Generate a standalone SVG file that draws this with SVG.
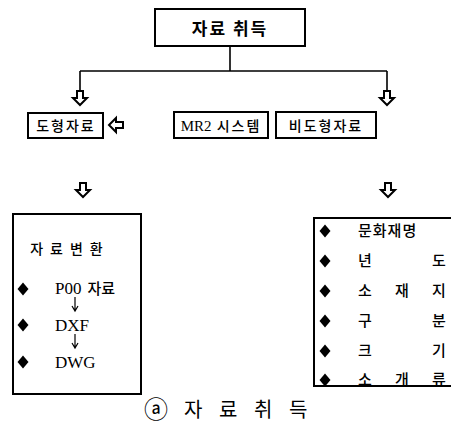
<svg xmlns="http://www.w3.org/2000/svg" width="451" height="446" viewBox="0 0 451 446">
<style>
.box{fill:none;stroke:#000;stroke-width:2}
.ln{fill:none;stroke:#000;stroke-width:1.6}
.ko{font-family:"Noto Sans CJK KR","Noto Sans",sans-serif;font-weight:500;fill:#000}
.lat{font-family:"Liberation Serif","Noto Sans CJK KR",serif;font-weight:normal;fill:#000}
.dia{fill:#000}
.sm{fill:none;stroke:#000;stroke-width:1.2}
.cap{font-family:"Noto Sans CJK KR","Noto Sans",sans-serif;font-weight:400;fill:#000}
</style>
<defs>
<polygon id="hd" points="-3,0 3,0 3,7 7,7 0,14 -7,7 -3,7" fill="#fff" stroke="#000" stroke-width="2" stroke-linejoin="miter"/>
<polygon id="dm" points="0,-6.5 5.5,0 0,6.5 -5.5,0"/>
</defs>
<g id="connectors">
<path class="ln" d="M230,46 V71 M80,71 H387 M80,71 V91 M387,71 V91"/>
<use href="#hd" x="80" y="91"/>
<use href="#hd" x="387" y="91"/>
<use href="#hd" transform="translate(123,125) rotate(90)"/>
<use href="#hd" x="83" y="183"/>
<use href="#hd" x="388" y="183"/>
</g>
<g id="top">
<rect class="box" x="155" y="9" width="150" height="37"/>
<text class="ko" x="230" y="35" font-size="17" style="font-weight:bold" text-anchor="middle" letter-spacing="2">자료 취득</text>
</g>
<g id="graphic">
<rect class="box" x="28" y="113" width="75" height="25"/>
<text class="ko" x="66" y="131" font-size="14" text-anchor="middle" letter-spacing="2">도형자료</text>
</g>
<g id="mr2">
<rect class="box" x="174" y="112" width="94" height="26"/>
<text x="221" y="131" font-size="15" text-anchor="middle"><tspan class="lat">MR2</tspan><tspan class="ko" font-size="14" letter-spacing="2"> 시스템</tspan></text>
</g>
<g id="nongraphic">
<rect class="box" x="276" y="112" width="100" height="26"/>
<text class="ko" x="326" y="131" font-size="14" text-anchor="middle" letter-spacing="2">비도형자료</text>
</g>
<g id="convert">
<rect class="box" x="13" y="214" width="128" height="180"/>
<text class="ko" x="70" y="254" font-size="14" text-anchor="middle" letter-spacing="7">자료변환</text>
<use href="#dm" class="dia" x="23" y="289"/>
<text x="55" y="294" font-size="17"><tspan class="lat">P00</tspan><tspan class="ko" font-size="15" dx="6">자료</tspan></text>
<path class="sm" d="M75,297 V311 M72,306 L75,311 L78,306"/>
<use href="#dm" class="dia" x="23" y="325"/>
<text class="lat" x="55" y="331" font-size="17">DXF</text>
<path class="sm" d="M75,334 V348 M72,343 L75,348 L78,343"/>
<use href="#dm" class="dia" x="23" y="362"/>
<text class="lat" x="55" y="368" font-size="17">DWG</text>
</g>
<g id="attrs">
<path class="box" d="M452,218 H314 V386 H452"/>
<g class="ko" font-size="15">
<use href="#dm" class="dia" x="325" y="231"/>
<text x="358" y="236" letter-spacing="1">문화재명</text>
<use href="#dm" class="dia" x="325" y="261"/>
<text x="358" y="266">년</text><text x="432" y="266">도</text>
<use href="#dm" class="dia" x="325" y="291"/>
<text x="358" y="296">소</text><text x="395" y="296">재</text><text x="432" y="296">지</text>
<use href="#dm" class="dia" x="325" y="321"/>
<text x="358" y="326">구</text><text x="432" y="326">분</text>
<use href="#dm" class="dia" x="325" y="351"/>
<text x="358" y="356">크</text><text x="432" y="356">기</text>
<use href="#dm" class="dia" x="325" y="380"/>
<text x="358" y="385">소</text><text x="395" y="385">개</text><text x="432" y="385">류</text>
</g>
</g>
<g id="caption" class="cap" font-size="20">
<text x="156" y="418" font-size="24" text-anchor="middle">ⓐ</text>
<text x="184" y="417">자</text><text x="219" y="417">료</text><text x="254" y="417">취</text><text x="289" y="417">득</text>
</g>
</svg>
